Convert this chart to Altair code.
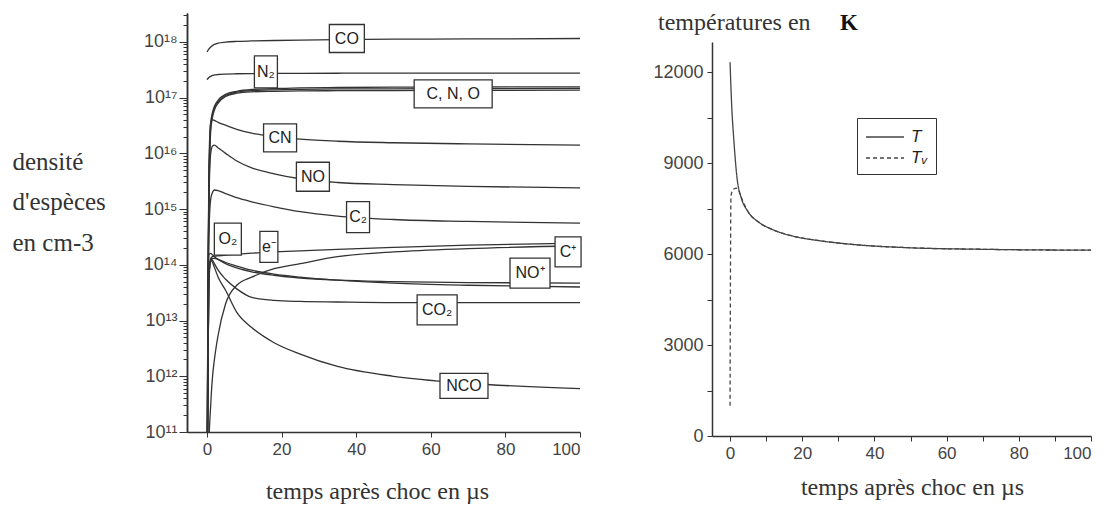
import altair as alt
import pandas as pd

# ---------------- data: left panel (species densities, cm-3) ----------------
T_US = [0, 0.25, 0.5, 1, 1.5, 2, 3, 5, 8, 12, 18, 25, 35, 50, 70, 100]

CO = [6.6e17, 7.0e17, 7.4e17, 8.1e17, 8.6e17, 9.0e17, 9.5e17, 9.9e17, 1.02e18, 1.04e18, 1.06e18, 1.08e18, 1.1e18, 1.12e18, 1.13e18, 1.15e18]
N2 = [2.1e17, 2.2e17, 2.3e17, 2.4e17, 2.5e17, 2.55e17, 2.6e17, 2.65e17, 2.68e17, 2.7e17, 2.72e17, 2.73e17, 2.74e17, 2.75e17, 2.75e17, 2.75e17]
C = [1e9, 3e13, 2e15, 3.5e16, 5.5e16, 7e16, 9e16, 1.15e17, 1.3e17, 1.4e17, 1.45e17, 1.5e17, 1.52e17, 1.54e17, 1.55e17, 1.56e17]
N = [1e9, 2e13, 1.5e15, 3e16, 5e16, 6.5e16, 8.5e16, 1.1e17, 1.25e17, 1.33e17, 1.38e17, 1.41e17, 1.43e17, 1.44e17, 1.45e17, 1.46e17]
O = [1e9, 1.5e13, 1e15, 2.5e16, 4.5e16, 6e16, 8e16, 1.05e17, 1.2e17, 1.27e17, 1.3e17, 1.32e17, 1.33e17, 1.34e17, 1.35e17, 1.36e17]
CN = [1e9, 1e13, 5e15, 3.5e16, 4e16, 3.9e16, 3.6e16, 3.2e16, 2.7e16, 2.3e16, 2.0e16, 1.8e16, 1.65e16, 1.55e16, 1.48e16, 1.4e16]
NO = [1e9, 1e13, 1e15, 1e16, 1.35e16, 1.4e16, 1.25e16, 1.0e16, 7.3e15, 5.5e15, 4.3e15, 3.5e15, 3.0e15, 2.75e15, 2.55e15, 2.4e15]
C2 = [1e9, 1e12, 3e14, 1.5e15, 2e15, 2.2e15, 2.15e15, 1.9e15, 1.6e15, 1.35e15, 1.1e15, 9e14, 7.5e14, 6.5e14, 6e14, 5.6e14]
O2 = [1e9, 5e13, 1.5e14, 1.6e14, 1.5e14, 1.4e14, 1.25e14, 1.05e14, 8.8e13, 7.5e13, 6.5e13, 5.8e13, 5.3e13, 5e13, 4.8e13, 4.7e13]
E_MINUS = [1e9, 1e12, 5e13, 1.3e14, 1.4e14, 1.42e14, 1.45e14, 1.5e14, 1.55e14, 1.62e14, 1.7e14, 1.78e14, 1.9e14, 2.05e14, 2.25e14, 2.45e14]
NO_PLUS = [1e9, 1e12, 4e13, 1.2e14, 1.3e14, 1.3e14, 1.25e14, 1.1e14, 9.5e13, 8e13, 6.8e13, 6e13, 5.3e13, 4.7e13, 4.3e13, 4.0e13]
C_PLUS = [1e6, 1e8, 5e10, 3e11, 1e12, 2e12, 5.5e12, 2e13, 4.3e13, 6e13, 8.5e13, 1.05e14, 1.4e14, 1.7e14, 1.95e14, 2.2e14]
CO2 = [1e9, 1e12, 5e13, 1.3e14, 1.2e14, 1.05e14, 8e13, 5.5e13, 3.7e13, 2.6e13, 2.3e13, 2.2e13, 2.15e13, 2.1e13, 2.1e13, 2.1e13]
NCO = [1e9, 1e12, 5e13, 1.2e14, 1.1e14, 9e13, 6e13, 3.5e13, 1.4e13, 7.5e12, 4e12, 2.5e12, 1.5e12, 1e12, 7.5e11, 6e11]

SPECIES_NAMES = ["CO", "N2", "C", "N", "O", "CN", "NO", "C2", "O2", "e-", "NO+", "C+", "CO2", "NCO"]
SPECIES_VALUES = [CO, N2, C, N, O, CN, NO, C2, O2, E_MINUS, NO_PLUS, C_PLUS, CO2, NCO]

# curve labels (text, time position, density position)
LABEL_TEXT = ["CO", "N₂", "C, N, O", "CN", "NO", "C₂", "O₂", "e⁻", "C⁺", "NO⁺", "CO₂", "NCO"]
LABEL_T = [37.5, 15.8, 66.0, 19.6, 28.4, 40.5, 5.6, 16.6, 96.8, 86.6, 61.7, 68.9]
LABEL_V = [1.15e18, 2.9e17, 1.17e17, 1.9e16, 3.8e15, 7.2e14, 2.9e14, 2.1e14, 1.7e14, 7.1e13, 1.55e13, 6.7e11]

DECADES = [1e11, 1e12, 1e13, 1e14, 1e15, 1e16, 1e17, 1e18]

# ---------------- data: right panel (temperatures, K) ----------------
T_R = [0, 0.25, 0.5, 1, 2, 3, 5, 8, 12, 18, 25, 35, 50, 70, 100]
TEMP_T = [12330, 11500, 10800, 9850, 8450, 7900, 7400, 7050, 6800, 6580, 6440, 6310, 6210, 6160, 6130]
TEMP_TV = [1000, 7900, 8050, 8150, 8180, 7900, 7400, 7050, 6800, 6580, 6440, 6310, 6210, 6160, 6130]

# ---------------- styling ----------------
BOX_W = [35, 23, 78, 33, 33, 23, 27, 18, 26, 40, 40, 48]
BOX_H = [28, 32, 28, 28, 29, 31, 32, 31, 30, 30, 30, 25]
INK = "#333333"
TICKC = "#444444"
SERIF = "Liberation Serif"
SANS = "Liberation Sans"

rows = []
for name, vals in zip(SPECIES_NAMES, SPECIES_VALUES):
    for t, v in zip(T_US, vals):
        rows.append({"species": name, "t": t, "v": v})
df_left = pd.DataFrame(rows)

df_lab = pd.DataFrame({
    "label": LABEL_TEXT,
    "t": LABEL_T,
    "v": LABEL_V,
    "path": [f"M{-w/2},{-h/2}H{w/2}V{h/2}H{-w/2}Z" for w, h in zip(BOX_W, BOX_H)],
})

minor_vals = [k * d for d in DECADES[:-1] for k in range(2, 10)] + [2e18, 3e18]

xscale_l = alt.Scale(domain=[-5.35, 100], nice=False, zero=False)
yscale_l = alt.Scale(type="log", domain=[1e11, 3.3e18], range=[424, 5], nice=False)

x_axis_l = alt.Axis(
    values=list(range(0, 101, 10)),
    labelExpr="datum.value % 20 == 0 ? datum.label : ''",
    tickSize=5, labelFontSize=17, labelColor=TICKC, labelFont=SANS, labelPadding=4,
    domainColor=INK, tickColor=INK, domainWidth=1.5,
    title="temps après choc en µs", titleFont=SERIF, titleFontSize=24, titleFontWeight="normal",
    titleColor=INK, titleX=190, titleY=66, titleAlign="center", titleBaseline="alphabetic",
)

y_axis_major = alt.Axis(
    orient="left",
    values=DECADES,
    labelExpr="'10¹' + substring('⁰¹²³⁴⁵⁶⁷⁸⁹', round(log(datum.value)/LN10) - 10, round(log(datum.value)/LN10) - 9)",
    tickSize=8, labelFontSize=18, labelColor=TICKC, labelFont=SANS, labelPadding=2,
    domainColor=INK, tickColor=INK, domainWidth=1.5,
    title=["densité", "d'espèces", "en cm-3"], titleFont=SERIF, titleFontSize=25,
    titleFontWeight="normal", titleColor=INK, titleAngle=0, titleAlign="left",
    titleBaseline="alphabetic", titleX=-175, titleY=161, titleLineHeight=40.5,
)
y_axis_minor = alt.Axis(orient="left", values=minor_vals, labels=False, tickSize=4, title=None,
                        domainColor=INK, tickColor=INK, domainWidth=1.5)

lines_l = alt.Chart(df_left).mark_line(
    clip=True, interpolate="monotone", stroke=INK, strokeWidth=1.3
).encode(
    x=alt.X("t:Q", scale=xscale_l, axis=x_axis_l),
    y=alt.Y("v:Q", scale=yscale_l, axis=y_axis_major),
    detail="species:N",
)

boxes = alt.Chart(df_lab).mark_point(
    filled=True, fill="white", stroke=INK, strokeWidth=1.3, size=4, opacity=1
).encode(
    x=alt.X("t:Q", scale=xscale_l),
    y=alt.Y("v:Q", scale=yscale_l, axis=y_axis_minor),
    shape=alt.Shape("path:N", scale=None),
)

texts = alt.Chart(df_lab).mark_text(
    font=SANS, fontSize=16, color="#222222", align="center", baseline="middle"
).encode(
    x=alt.X("t:Q", scale=xscale_l),
    y=alt.Y("v:Q", scale=yscale_l, axis=None),
    text="label:N",
)

left = alt.layer(lines_l, boxes, texts).resolve_axis(y="independent").properties(width=393, height=424)

# ---------------- right panel ----------------
df_right = pd.DataFrame(
    [{"series": "T", "t": t, "K": k} for t, k in zip(T_R, TEMP_T)]
    + [{"series": "Tᵥ", "t": t, "K": k} for t, k in zip(T_R, TEMP_TV)]
)

x_axis_r = alt.Axis(
    values=list(range(0, 101, 10)),
    labelExpr="datum.value % 20 == 0 ? datum.label : ''",
    tickSize=5, labelFontSize=17, labelColor=TICKC, labelFont=SANS, labelPadding=4,
    domainColor=INK, tickColor=INK, domainWidth=1.5,
    title="temps  après choc en µs", titleFont=SERIF, titleFontSize=24, titleFontWeight="normal",
    titleColor=INK, titleX=200, titleY=58, titleAlign="center", titleBaseline="alphabetic",
)
y_axis_r = alt.Axis(
    values=list(range(0, 13001, 1500)),
    labelExpr="datum.value % 3000 == 0 ? datum.label : ''",
    format="d",
    tickSize=5, labelFontSize=18, labelColor=TICKC, labelFont=SANS, labelPadding=4,
    domainColor=INK, tickColor=INK, domainWidth=1.5, title=None,
)

lines_r = alt.Chart(df_right).mark_line(
    clip=True, interpolate="monotone", stroke="#444444", strokeWidth=1.3
).encode(
    x=alt.X("t:Q", scale=alt.Scale(domain=[-5, 100], nice=False, zero=False), axis=x_axis_r),
    y=alt.Y("K:Q", scale=alt.Scale(domain=[0, 13000], range=[428, 34], nice=False), axis=y_axis_r),
    strokeDash=alt.StrokeDash(
        "series:N",
        scale=alt.Scale(domain=["T", "Tᵥ"], range=[[1, 0], [4, 3]]),
        legend=alt.Legend(
            orient="none", legendX=670, legendY=110, title=None,
            strokeColor=INK, fillColor="white", padding=8,
            symbolType="M-1,0H2.8", symbolSize=400, symbolStrokeWidth=1.3,
            symbolStrokeColor="#444444",
            labelFont=SANS, labelFontStyle="italic", labelFontSize=17, labelColor="#222222",
            rowPadding=2, labelOffset=24,
        ),
    ),
)

title_df = pd.DataFrame({"txt": ["températures en"]})
title_a = alt.Chart(title_df).mark_text(
    align="left", baseline="alphabetic", font=SERIF, fontSize=24, color=INK
).encode(x=alt.value(-54), y=alt.value(22), text="txt:N")
title_b = alt.Chart(pd.DataFrame({"txt": ["K"]})).mark_text(
    align="left", baseline="alphabetic", font=SERIF, fontSize=23, fontWeight="bold", color="#111111"
).encode(x=alt.value(128), y=alt.value(22), text="txt:N")

right = alt.layer(lines_r, title_a, title_b).properties(width=379, height=428)

chart = alt.hconcat(left, right, spacing=132, bounds="flush").properties(
    padding={"left": 4, "top": 0, "right": 5, "bottom": 2}
).configure_view(stroke=None).configure_axis(grid=False)

chart.save("out.html", embed_options={"renderer": "svg", "actions": False})
